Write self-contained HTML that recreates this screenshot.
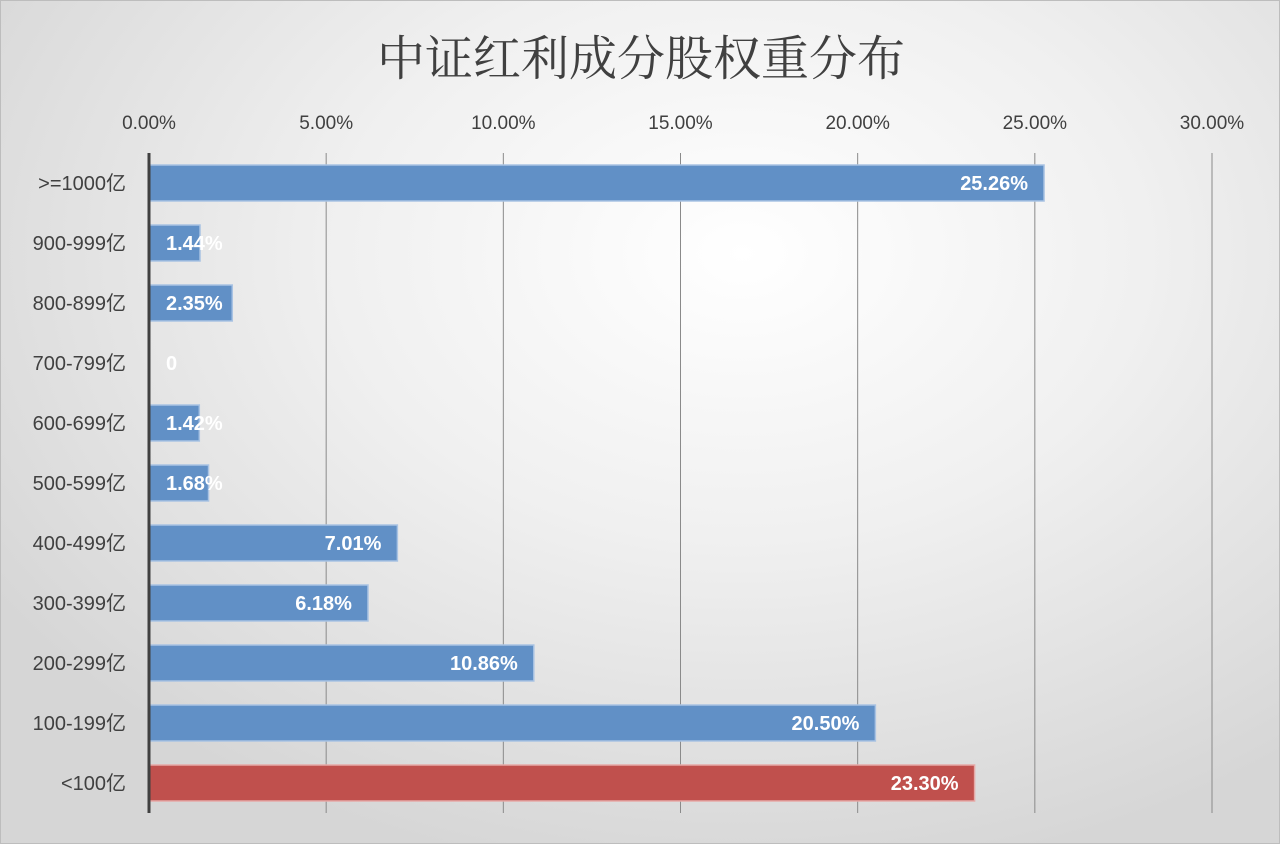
<!DOCTYPE html>
<html><head><meta charset="utf-8"><style>
html,body{margin:0;padding:0;}
body{width:1280px;height:844px;overflow:hidden;}
#wrap{width:1278px;height:842px;border:1px solid #bdbdbd;background:radial-gradient(ellipse 70% 75% at 58% 30%,#ffffff 0%,#f0f0f0 45%,#d6d6d6 100%);position:relative;}
svg{position:absolute;left:0;top:0;font-family:"Liberation Sans","Noto Sans CJK SC",sans-serif;}
</style></head><body>
<div id="wrap">
<svg id="chart" width="1280" height="844">
<text x="640" y="74" text-anchor="middle" font-size="48" fill="#404040" font-family="'Noto Serif CJK SC',serif">中证红利成分股权重分布</text>
</svg>
</div>
<script>
const categories=[">=1000亿","900-999亿","800-899亿","700-799亿","600-699亿","500-599亿","400-499亿","300-399亿","200-299亿","100-199亿","<100亿"];
const values=[25.26,1.44,2.35,0,1.42,1.68,7.01,6.18,10.86,20.50,23.30];
const valueLabels=["25.26%","1.44%","2.35%","0","1.42%","1.68%","7.01%","6.18%","10.86%","20.50%","23.30%"];
const ticks=[0,5,10,15,20,25,30];
const tickLabels=["0.00%","5.00%","10.00%","15.00%","20.00%","25.00%","30.00%"];
const highlight=[false,false,false,false,false,false,false,false,false,false,true];
(function(){
const svg=document.getElementById('chart');
const NS='http://www.w3.org/2000/svg';
const x0=148,x1=1211,yTop=152,yBottom=812;
const xs=v=>x0+(v-0)/(30-0)*(x1-x0);
const band=(yBottom-yTop)/categories.length;
const yc=i=>yTop+band*(i+0.5);
function mk(t,a){const e=document.createElementNS(NS,t);for(const k in a)e.setAttribute(k,a[k]);svg.appendChild(e);return e;}
ticks.forEach((t,i)=>{
  if(i>0){const g=mk('line',{x1:xs(t),x2:xs(t),y1:yTop,y2:yBottom,stroke:'#8a8a8a','stroke-width':1});
  
  }
  const l=mk('text',{x:xs(t),y:128,'text-anchor':'middle','font-size':19,fill:'#404040'});
  l.textContent=tickLabels[i];
  
  
});
categories.forEach((c,i)=>{
  const y=yc(i);
  const l=mk('text',{x:125,y:y+7,'text-anchor':'end','font-size':20,fill:'#404040'});
  l.textContent=c;
  
  
  const w=xs(values[i])-x0;
  if(w>0){
    const b=mk('rect',{x:x0,y:y-18,width:w,height:36,fill:highlight[i]?'#c0504d':'#6190c6',stroke:highlight[i]?'#e6a9a7':'#a9c3e3','stroke-width':1.5});
    
    
  }
  const end=xs(values[i]);
  const small=w<90;
  const t=mk('text',{x:small?165:end-16,y:y+7,'text-anchor':small?'start':'end','font-size':20,'font-weight':'bold',fill:'#ffffff'});
  t.textContent=valueLabels[i];
  
  
});
const ax=mk('line',{x1:x0,x2:x0,y1:yTop,y2:yBottom,stroke:'#404040','stroke-width':3});


})();
</script>
</body></html>
